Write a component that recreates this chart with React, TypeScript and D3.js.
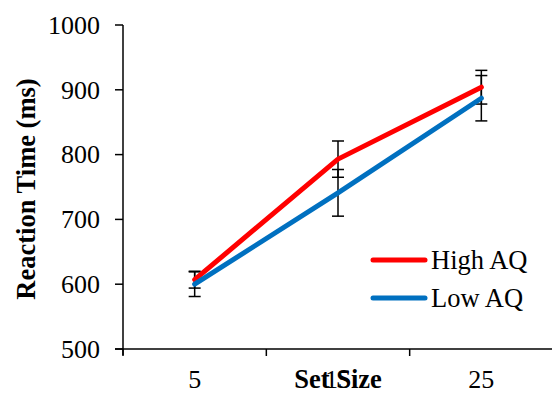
import React from "react";
import * as d3 from "d3";

const categories = ["5", "15", "25"];
const highAQ = [607, 793, 904];
const highAQErr = [13, 28, 26];
const lowAQ = [600, 741, 887];
const lowAQErr = [19, 36, 35];
const yTicks = [500, 600, 700, 800, 900, 1000];
const seriesNames = ["High AQ", "Low AQ"];
const seriesColors = ["#FF0000", "#0070C0"];

const W = 552;
const H = 394;
const left = 123;
const right = 553;
const top = 25;
const bottom = 349;

export default function App() {
  const x = d3.scaleBand<string>().domain(categories).range([left, right]);
  const y = d3.scaleLinear().domain([500, 1000]).range([bottom, top]);
  const cx = (c: string) => (x(c) ?? 0) + x.bandwidth() / 2;
  const line = d3
    .line<number>()
    .x((_, i) => cx(categories[i]))
    .y((v) => y(v));

  const series = [
    { name: seriesNames[0], color: seriesColors[0], values: highAQ, err: highAQErr },
    { name: seriesNames[1], color: seriesColors[1], values: lowAQ, err: lowAQErr },
  ];
  const ts: React.CSSProperties = { fontFamily: "Liberation Serif" };
  const boundaries = categories.map((c) => x(c) ?? 0).concat([right]);

  return (
    <svg
      width={W}
      height={H}
      style={{ position: "absolute", left: 0, top: 0, background: "#fff" }}
    >
      <rect width={W} height={H} fill="#fff" />
      {/* y axis */}
      <line x1={left} x2={left} y1={top} y2={bottom + 6} stroke="#000" strokeWidth={1.5} />
      {yTicks.map((t) => (
        <g key={t}>
          <line x1={left - 8} x2={left} y1={y(t)} y2={y(t)} stroke="#000" strokeWidth={1.5} />
          <text x={100} y={y(t)} dy="0.34em" textAnchor="end" fontSize={26} fill="#000" style={ts}>
            {t}
          </text>
        </g>
      ))}
      {/* x axis */}
      <line x1={left - 8} x2={right} y1={bottom} y2={bottom} stroke="#000" strokeWidth={1.5} />
      {boundaries.map((b, i) => (
        <line key={i} x1={b} x2={b} y1={bottom} y2={bottom + 7} stroke="#000" strokeWidth={1.5} />
      ))}
      {categories.map((c) => (
        <text key={c} x={cx(c)} y={388} textAnchor="middle" fontSize={26} fill="#000" style={ts}>
          {c}
        </text>
      ))}
      <text x={cx(categories[1])} y={388} textAnchor="middle" fontSize={26.5} fontWeight="bold" fill="#000" style={ts}>
        Set Size
      </text>
      <text
        transform={`translate(35, 189) rotate(-90)`}
        textAnchor="middle"
        fontSize={26.5}
        fontWeight="bold"
        fill="#000"
        style={ts}
      >
        Reaction Time (ms)
      </text>
      {/* error bars */}
      {series.map((s) =>
        s.values.map((v, i) => {
          const px = cx(categories[i]);
          const y1 = y(v + s.err[i]);
          const y2 = y(v - s.err[i]);
          return (
            <g key={s.name + i} stroke="#000" strokeWidth={1.5}>
              <line x1={px} x2={px} y1={y1} y2={y2} />
              <line x1={px - 6} x2={px + 6} y1={y1} y2={y1} />
              <line x1={px - 6} x2={px + 6} y1={y2} y2={y2} />
            </g>
          );
        })
      )}
      {/* lines */}
      {series.map((s) => (
        <path
          key={s.name}
          d={line(s.values) ?? ""}
          fill="none"
          stroke={s.color}
          strokeWidth={5}
          strokeLinecap="round"
          strokeLinejoin="round"
        />
      ))}
      {/* legend */}
      {series.map((s, i) => (
        <g key={s.name}>
          <line x1={373} x2={425} y1={260 + i * 38} y2={260 + i * 38} stroke={s.color} strokeWidth={5} strokeLinecap="round" />
          <text x={431} y={269 + i * 38} fontSize={26.5} fill="#000" style={ts}>
            {s.name}
          </text>
        </g>
      ))}
    </svg>
  );
}
